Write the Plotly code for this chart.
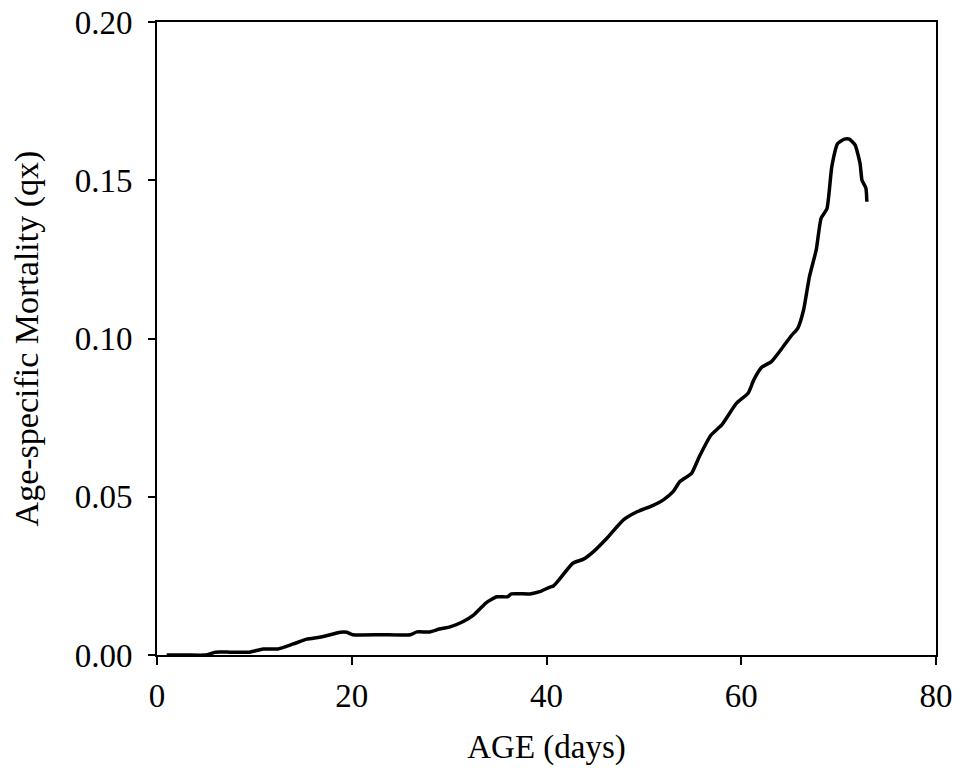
import plotly.graph_objects as go

age_days = [1, 3, 5, 6, 7.5, 9.5, 10.9, 12.4, 14, 15.4, 16.7, 17.8, 18.8, 19.5, 20.1, 23, 26,
            26.7, 28, 29, 30.1, 31.4, 32.5, 33.2, 33.8, 34.9, 36, 36.4, 38.3, 39.3, 40.3, 40.7,
            41.4, 42.7, 43.8, 44.8, 46.2, 47.9, 49.2, 50.9, 52, 53, 53.7, 54.9, 55.7, 56.9, 58,
            59.5, 60.7, 61.3, 62.1, 63.1, 64.3, 65.2, 65.8, 66.4, 67, 67.7, 68.2, 68.8, 69.3,
            69.9, 70.6, 71.1, 71.7, 72.2, 72.4, 72.8, 72.9]
qx = [0.0, 0.0, 0.0, 0.0009, 0.0009, 0.0009, 0.0019, 0.0019, 0.0035, 0.005, 0.0056, 0.0064,
      0.0072, 0.0072, 0.0064, 0.0064, 0.0064,
      0.0073, 0.0073, 0.0082, 0.0089, 0.0105, 0.0126, 0.0147, 0.0165, 0.0184, 0.0184, 0.0193,
      0.0193, 0.020, 0.0214, 0.0218,
      0.0242, 0.029, 0.0303, 0.0326, 0.0369, 0.0427, 0.0451, 0.0472, 0.049, 0.0516, 0.0548,
      0.0574, 0.0627, 0.0695, 0.0727,
      0.0795, 0.0827, 0.0870, 0.0909, 0.0927, 0.0974, 0.1011, 0.1032, 0.109, 0.1195, 0.128,
      0.138, 0.141, 0.1543,
      0.1616, 0.163, 0.163, 0.1611, 0.1553, 0.150, 0.1475, 0.1432]

x_ticks = [0, 20, 40, 60, 80]
y_ticks = [0.00, 0.05, 0.10, 0.15, 0.20]
y_tick_labels = ["0.00", "0.05", "0.10", "0.15", "0.20"]

fig = go.Figure()
fig.add_trace(go.Scatter(x=age_days, y=qx, mode="lines",
                         line=dict(color="black", width=3.5, shape="spline", smoothing=0.5),
                         showlegend=False))

font_family = "Liberation Serif, Times New Roman, serif"
fig.update_layout(
    width=962, height=768,
    margin=dict(l=157, r=26, t=22, b=113),
    paper_bgcolor="white", plot_bgcolor="white",
    font=dict(family=font_family, color="black", size=33),
    xaxis=dict(range=[0, 80], tickvals=x_ticks, ticks="outside", ticklen=8, tickwidth=2,
               tickcolor="black", showline=True, linecolor="black", linewidth=2, mirror=True,
               showgrid=False, zeroline=False, automargin=False, ticklabelstandoff=2,
               ticklabeloverflow="allow",
               tickfont=dict(size=33, family=font_family),
               title=dict(text="AGE (days)", font=dict(size=33, family=font_family), standoff=22)),
    yaxis=dict(range=[0, 0.20], tickvals=y_ticks, ticktext=y_tick_labels, ticks="outside",
               ticklen=7, tickwidth=2, tickcolor="black", showline=True, linecolor="black",
               linewidth=2, mirror=True, showgrid=False, zeroline=False, automargin=False,
               ticklabelstandoff=9, ticklabeloverflow="allow",
               tickfont=dict(size=33, family=font_family),
               title=dict(text="Age-specific Mortality (qx)", font=dict(size=34, family=font_family),
                          standoff=26)),
)

fig.write_html("out.html", config={"displayModeBar": False},
               post_script="document.body.style.margin='0';document.body.style.overflow='hidden';")
